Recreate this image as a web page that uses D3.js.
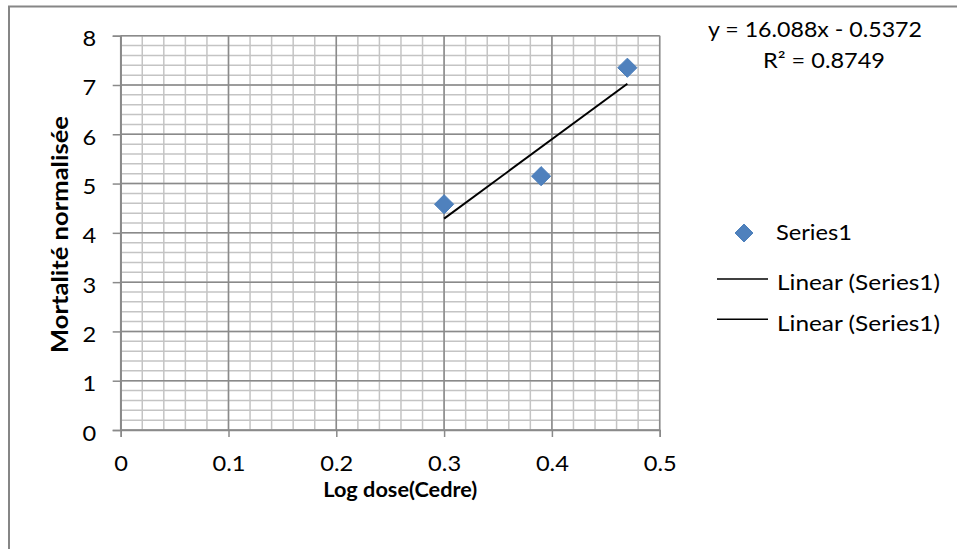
<!DOCTYPE html>
<html>
<head>
<meta charset="utf-8">
<script src="https://cdn.jsdelivr.net/npm/d3@7"></script>
<style>
  html, body { margin: 0; padding: 0; background: #fff; }
  svg { display: block; }
  text { font-family: Lato, "Noto Sans", sans-serif; fill: #000; }
</style>
</head>
<body>
<svg id="chart" width="957" height="549"></svg>
<script>
// ---- data ----
const xValues = [0.30, 0.39, 0.47];
const yValues = [4.58, 5.15, 7.35];
const xTicks = [0, 0.1, 0.2, 0.3, 0.4, 0.5];
const yTicks = [0, 1, 2, 3, 4, 5, 6, 7, 8];
const trendSlope = 16.088;
const trendIntercept = -0.5372;
const equationLines = ["y = 16.088x - 0.5372", "R² = 0.8749"];
const legendLabels = ["Series1", "Linear (Series1)", "Linear (Series1)"];
const xTitle = "Log dose(Cedre)";
const yTitle = "Mortalité normalisée";

const svg = d3.select("#chart");

// set font size (height) and squeeze/stretch to a target width (Calibri-like proportions)
function fitText(sel, size, target) {
  sel.style("font-size", size + "px");
  if (target) sel.attr("textLength", target).attr("lengthAdjust", "spacingAndGlyphs");
  return sel;
}
function scaleTexts(sel, size, ratio) {
  sel.style("font-size", size + "px").each(function () {
    const L = this.getComputedTextLength();
    d3.select(this).attr("textLength", L * ratio).attr("lengthAdjust", "spacingAndGlyphs");
  });
}

// ---- layout ----
const x = d3.scaleLinear().domain([0, 0.5]).range([120.7, 659.7]);
const y = d3.scaleLinear().domain([0, 8]).range([430, 35.7]);

svg.append("rect").attr("x", 0).attr("y", 0).attr("width", 957).attr("height", 549).attr("fill", "#fff");
svg.append("rect").attr("x", 9).attr("y", 6.5).attr("width", 1000).attr("height", 600)
  .attr("fill", "none").attr("stroke", "#868686").attr("stroke-width", 2);

const g = svg.append("g");

// minor grid
const minorX = d3.range(0, 0.5001, 0.02);
const minorY = d3.range(0, 8.0001, 0.2);
g.selectAll(".mx").data(minorX).join("line")
  .attr("x1", d => x(d)).attr("x2", d => x(d)).attr("y1", y(8)).attr("y2", y(0))
  .attr("stroke", "#c4c4c4").attr("stroke-width", 1.5);
g.selectAll(".my").data(minorY).join("line")
  .attr("x1", x(0)).attr("x2", x(0.5)).attr("y1", d => y(d)).attr("y2", d => y(d))
  .attr("stroke", "#c4c4c4").attr("stroke-width", 1.5);

// major grid
g.selectAll(".gx").data(xTicks).join("line")
  .attr("x1", d => x(d)).attr("x2", d => x(d)).attr("y1", y(8)).attr("y2", y(0))
  .attr("stroke", "#8a8a8a").attr("stroke-width", 1.5);
g.selectAll(".gy").data(yTicks).join("line")
  .attr("x1", x(0)).attr("x2", x(0.5)).attr("y1", d => y(d)).attr("y2", d => y(d))
  .attr("stroke", "#8a8a8a").attr("stroke-width", 1.5);

// axes
const xAxis = d3.axisBottom(x).tickValues(xTicks).tickSize(7).tickFormat(d3.format(""));
const yAxis = d3.axisLeft(y).tickValues(yTicks).tickSize(8).tickFormat(d3.format("d"));
const gx = svg.append("g").attr("transform", `translate(0,${y(0)})`).call(xAxis);
const gy = svg.append("g").attr("transform", `translate(${x(0)},0)`).call(yAxis);
[gx, gy].forEach(a => {
  a.select(".domain").attr("stroke", "#8a8a8a").attr("stroke-width", 1.5);
  a.selectAll(".tick line").attr("stroke", "#8a8a8a").attr("stroke-width", 1.5);
  a.selectAll("text").style("font-family", "Lato").attr("fill", "#000");
});
// ratio so that "0.5" is 33px wide at 22px Lato
const probe = svg.append("text").style("font-size", "22px").text("0.5");
const tickRatio = 33 / probe.node().getComputedTextLength();
probe.remove();
gx.selectAll(".tick text").attr("y", 0).attr("dy", 40.5);
gy.selectAll(".tick text").attr("x", -24.5).attr("dy", 10);
scaleTexts(gx.selectAll(".tick text"), 22, tickRatio);
scaleTexts(gy.selectAll(".tick text"), 22, tickRatio);

// trend line
const xmin = d3.min(xValues), xmax = d3.max(xValues);
svg.append("line")
  .attr("x1", x(xmin)).attr("y1", y(trendSlope * xmin + trendIntercept))
  .attr("x2", x(xmax)).attr("y2", y(trendSlope * xmax + trendIntercept))
  .attr("stroke", "#000").attr("stroke-width", 2);

// points
const sym = d3.symbol().type(d3.symbolDiamond2).size(235);
svg.selectAll(".pt").data(xValues.map((v, i) => [v, yValues[i]])).join("path")
  .attr("d", sym).attr("transform", d => `translate(${x(d[0])},${y(d[1])})`)
  .attr("fill", "#4f81bd").attr("stroke", "#4a7ebb").attr("stroke-width", 1);

// equation
fitText(svg.append("text").attr("x", 708).attr("y", 36.7).text(equationLines[0]), 21, 214);
fitText(svg.append("text").attr("x", 763).attr("y", 68).text(equationLines[1]), 21, 122);

// axis titles
fitText(svg.append("text").attr("x", 323.3).attr("y", 496.7)
  .style("font-weight", "bold").text(xTitle), 21.5, 154);
fitText(svg.append("text").attr("transform", "translate(68.3,353) rotate(-90)")
  .style("font-weight", "bold").text(yTitle), 22, 237);

// legend
svg.append("path").attr("d", d3.symbol().type(d3.symbolDiamond2).size(205))
  .attr("transform", "translate(744,233)").attr("fill", "#4f81bd").attr("stroke", "#4a7ebb");
fitText(svg.append("text").attr("x", 776).attr("y", 239.5).text(legendLabels[0]), 21, 76);
[[279, 290], [319.3, 331]].forEach((p, i) => {
  svg.append("line").attr("x1", 717).attr("x2", 768).attr("y1", p[0]).attr("y2", p[0])
    .attr("stroke", "#000").attr("stroke-width", 1.5);
  fitText(svg.append("text").attr("x", 777).attr("y", p[1]).text(legendLabels[i + 1]), 21, 163);
});
</script>
</body>
</html>
